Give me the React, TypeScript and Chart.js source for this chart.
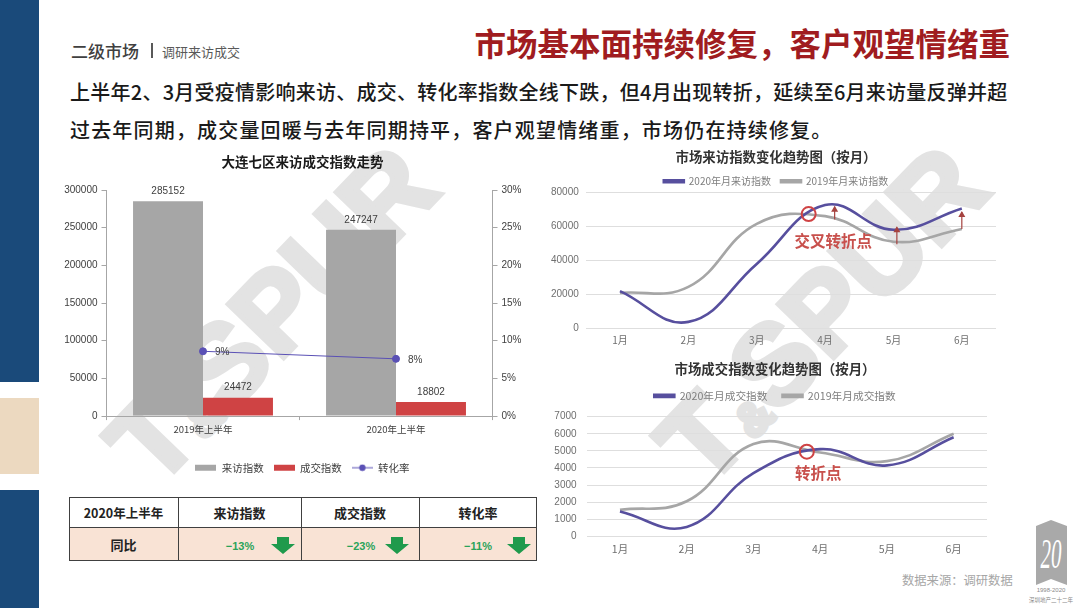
import React, { useEffect, useRef } from "react";
import { Chart, registerables } from "chart.js";

Chart.register(...registerables);

const FONT = '"Liberation Sans","Noto Sans CJK SC",sans-serif';
const CJK = '"Noto Sans CJK SC","Liberation Sans",sans-serif';

// Chart 1
const halfYears = ["2019年上半年", "2020年上半年"];
const visitTotals = [285152, 247247];
const dealTotals = [24472, 18802];
const conversionRates = [8.6, 7.6];

// Chart 2
const months = ["1月", "2月", "3月", "4月", "5月", "6月"];
const visits2020 = [22000, 4000, 38000, 72500, 58000, 70500];
const visits2019 = [21000, 24500, 61500, 66000, 51000, 58500];

// Chart 3
const deals2020 = [1450, 550, 3700, 5100, 4150, 5800];
const deals2019 = [1550, 2050, 5400, 4900, 4400, 6000];

// Annotations in data coordinates: [category index, value]
const visitCircle = [2.76, 67200];
const visitArrows = [
  [3.14, 64000, 71500],
  [4.05, 49500, 59500],
  [5.0, 58500, 68500],
];
const visitNote = { x: 3.12, y: 51500, text: "交叉转折点" };
const dealCircle = [2.8, 4950];
const dealNote = { x: 2.97, y: 3680, text: "转折点" };

const RED = "#cf4344";
const PURPLE = "#574f9e";
const GREY = "#a6a6a6";

function makeSwatch(kind: string, color: string) {
  const c = document.createElement("canvas");
  c.width = 21;
  c.height = 8;
  const g = c.getContext("2d")!;
  g.fillStyle = color;
  g.strokeStyle = color;
  if (kind === "bar") {
    g.fillRect(0, 1, 21, 6);
  } else {
    g.lineWidth = 1;
    g.beginPath();
    g.moveTo(0, 4);
    g.lineTo(21, 4);
    g.stroke();
    g.beginPath();
    g.arc(10.5, 4, 3.2, 0, Math.PI * 2);
    g.fill();
  }
  return c;
}

const barLabels = {
  id: "barLabels",
  afterDatasetsDraw(chart: any) {
    const ctx = chart.ctx;
    ctx.save();
    ctx.font = `10px ${FONT}`;
    ctx.fillStyle = "#404040";
    chart.data.datasets.forEach((ds: any, i: number) => {
      chart.getDatasetMeta(i).data.forEach((el: any, j: number) => {
        if (ds.type === "line") {
          ctx.textAlign = "left";
          ctx.textBaseline = "middle";
          ctx.fillText(`${Math.round(ds.data[j])}%`, el.x + 12, el.y + 1);
        } else {
          ctx.textAlign = "center";
          ctx.textBaseline = "bottom";
          ctx.fillText(String(ds.data[j]), el.x, el.y - 5);
        }
      });
    });
    ctx.restore();
  },
};

function notesPlugin(circle: number[], arrows: number[][], note: any) {
  return {
    id: "notes",
    afterDatasetsDraw(chart: any) {
      const { ctx, scales } = chart;
      const X = scales.x;
      const Y = scales.y;
      ctx.save();
      ctx.strokeStyle = RED;
      ctx.lineWidth = 2;
      ctx.beginPath();
      ctx.arc(X.getPixelForValue(circle[0]), Y.getPixelForValue(circle[1]), 7, 0, Math.PI * 2);
      ctx.stroke();
      ctx.strokeStyle = "#a5423f";
      ctx.fillStyle = "#a5423f";
      ctx.lineWidth = 1.2;
      arrows.forEach(([ax, from, to]) => {
        const x = X.getPixelForValue(ax);
        const y0 = Y.getPixelForValue(from);
        const y1 = Y.getPixelForValue(to);
        ctx.beginPath();
        ctx.moveTo(x, y0);
        ctx.lineTo(x, y1);
        ctx.stroke();
        ctx.beginPath();
        ctx.moveTo(x, y1 - 1);
        ctx.lineTo(x - 3.5, y1 + 5);
        ctx.lineTo(x + 3.5, y1 + 5);
        ctx.closePath();
        ctx.fill();
      });
      ctx.fillStyle = "#c8504c";
      ctx.font = `bold 15.5px ${CJK}`;
      ctx.textAlign = "center";
      ctx.textBaseline = "middle";
      ctx.fillText(note.text, X.getPixelForValue(note.x), Y.getPixelForValue(note.y));
      ctx.restore();
    },
  };
}

function legendFit(extra: number) {
  return {
    id: "legendFit",
    beforeInit(chart: any) {
      const fit = chart.legend.fit;
      chart.legend.fit = function () {
        fit.call(this);
        this.height += extra;
      };
    },
  };
}

function useChart(build: (c: HTMLCanvasElement) => Chart) {
  const ref = useRef<HTMLCanvasElement>(null);
  useEffect(() => {
    const chart = build(ref.current!);
    return () => chart.destroy();
  }, []);
  return ref;
}

function box(left: number, top: number, width: number, height: number) {
  return { position: "absolute" as const, left, top, width, height };
}

function lineOptions(o: any) {
  return {
    responsive: false,
    animation: false as const,
    layout: { padding: 0 },
    plugins: {
      tooltip: { enabled: false },
      title: {
        display: true,
        text: o.title,
        color: "#333333",
        font: { family: CJK, size: 13.4, weight: "bold" },
        padding: o.titlePadding,
      },
      legend: {
        position: "top",
        labels: {
          boxWidth: 20,
          boxHeight: 2,
          padding: o.legendPadding,
          color: "#7f7f7f",
          font: { family: CJK, size: o.legendSize },
        },
      },
    },
    scales: {
      x: {
        offset: true,
        afterFit: (s: any) => { s.height = o.xHeight; },
        grid: { display: false, drawTicks: false },
        border: { display: false },
        ticks: { color: "#6f6f6f", font: { family: CJK, size: o.xSize }, padding: o.xPad, maxRotation: 0 },
      },
      y: {
        min: 0,
        max: o.max,
        afterFit: (s: any) => { s.width = o.yWidth; },
        grid: { color: "#dedede", drawTicks: false, lineWidth: 1 },
        border: { display: false },
        ticks: {
          stepSize: o.step,
          color: "#6f6f6f",
          font: { family: FONT, size: 10 },
          padding: o.yPad,
          callback: (v: any) => String(v),
        },
      },
      r: {
        position: "right",
        afterFit: (s: any) => { s.width = o.rWidth; },
        grid: { display: false, drawTicks: false },
        border: { display: false },
        ticks: { display: false },
      },
    },
  };
}

function lineDataset(label: string, data: number[], color: string) {
  return {
    label,
    data,
    borderColor: color,
    backgroundColor: color,
    borderWidth: 2.6,
    pointRadius: 0,
    tension: 0.42,
    cubicInterpolationMode: "default",
  };
}

function DownArrow({ left }: { left: number }) {
  return (
    <svg style={{ position: "absolute", left: left - 12, top: 537 }} width={24} height={17}>
      <polygon points="6,0 18,0 18,7 24,7 12,17 0,7 6,7" fill="#1f9a4c" />
    </svg>
  );
}

const cellText = (
  left: number,
  width: number,
  top: number,
  height: number,
  text: string,
  size: number
) => (
  <div
    style={{
      ...box(left, top, width, height),
      display: "flex",
      alignItems: "center",
      justifyContent: "center",
      fontFamily: CJK,
      fontWeight: 700,
      fontSize: size,
      color: "#222",
    }}
  >
    {text}
  </div>
);

function Watermark({ cx, cy }: { cx: number; cy: number }) {
  return (
    <div
      style={{
        position: "absolute",
        left: cx - 300,
        top: cy - 75,
        width: 600,
        height: 150,
        lineHeight: "150px",
        textAlign: "center",
        fontFamily: '"Liberation Sans",sans-serif',
        fontWeight: 700,
        fontSize: 112,
        color: "#e3e3e3",
        WebkitTextStroke: "5px #e3e3e3",
        transform: "rotate(-46deg)",
        whiteSpace: "nowrap",
      }}
    >
      T<span style={{ fontSize: 46 }}>&amp;</span>SPUR
    </div>
  );
}

export default function App() {
  const c1 = useChart((c) => {
    const bar = makeSwatch("bar", GREY);
    const bar2 = makeSwatch("bar", RED);
    const line = makeSwatch("line", "#5a50b5");
    const swatches = [bar, bar2, line];
    return new Chart(c, {
      data: {
        labels: halfYears,
        datasets: [
          { type: "bar", label: "来访指数", data: visitTotals, backgroundColor: GREY, yAxisID: "y", order: 1 },
          { type: "bar", label: "成交指数", data: dealTotals, backgroundColor: RED, yAxisID: "y", order: 1 },
          {
            type: "line",
            label: "转化率",
            data: conversionRates,
            borderColor: "#5a50b5",
            backgroundColor: "#5a50b5",
            borderWidth: 1,
            pointRadius: 3.5,
            yAxisID: "y1",
            order: 0,
          },
        ],
      } as any,
      options: {
        responsive: false,
        animation: false,
        layout: { padding: 0 },
        datasets: { bar: { barPercentage: 1, categoryPercentage: 0.725 } },
        plugins: {
          tooltip: { enabled: false },
          title: {
            display: true,
            text: "大连七区来访成交指数走势",
            color: "#1a1a1a",
            font: { family: CJK, size: 13.5, weight: "bold" },
            padding: { top: 6, bottom: 19.8 },
          },
          legend: {
            position: "bottom",
            labels: {
              usePointStyle: true,
              pointStyleWidth: 21,
              boxHeight: 8,
              padding: 10,
              color: "#404040",
              font: { family: CJK, size: 10.5 },
              generateLabels: (chart: any) =>
                chart.data.datasets.map((d: any, i: number) => ({
                  text: d.label,
                  pointStyle: swatches[i],
                  fillStyle: d.backgroundColor,
                  strokeStyle: d.backgroundColor,
                  lineWidth: 0,
                  datasetIndex: i,
                  fontColor: "#404040",
                })),
            },
          },
        },
        scales: {
          x: {
            afterFit: (s: any) => { s.height = 36.4; },
            grid: { drawOnChartArea: false, color: "#a6a6a6", tickLength: 4 },
            border: { color: "#a6a6a6" },
            ticks: { color: "#404040", font: { family: CJK, size: 9.5 }, padding: 4, maxRotation: 0 },
          },
          y: {
            min: 0,
            max: 300000,
            afterFit: (s: any) => { s.width = 46.5; },
            grid: { drawOnChartArea: false, color: "#a6a6a6", tickLength: 5 },
            border: { color: "#a6a6a6" },
            ticks: {
              stepSize: 50000,
              color: "#404040",
              font: { family: FONT, size: 10 },
              padding: 4,
              callback: (v: any) => String(v),
            },
          },
          y1: {
            position: "right",
            min: 0,
            max: 30,
            afterFit: (s: any) => { s.width = 52.5; },
            grid: { drawOnChartArea: false, color: "#a6a6a6", tickLength: 5 },
            border: { color: "#a6a6a6" },
            ticks: {
              stepSize: 5,
              color: "#404040",
              font: { family: FONT, size: 10 },
              padding: 4,
              callback: (v: any) => `${v}%`,
            },
          },
        },
      } as any,
      plugins: [barLabels],
    });
  });

  const c2 = useChart((c) =>
    new Chart(c, {
      type: "line",
      data: {
        labels: months,
        datasets: [
          lineDataset("2020年月来访指数", visits2020, PURPLE),
          lineDataset("2019年月来访指数", visits2019, GREY),
        ],
      } as any,
      options: lineOptions({
        title: "市场来访指数变化趋势图（按月）",
        titlePadding: { top: 1, bottom: 1.2 },
        legendPadding: 10,
        legendSize: 10,
        xHeight: 24.3,
        xSize: 10,
        xPad: 6,
        yWidth: 40.8,
        rWidth: 11,
        yPad: 7,
        max: 80000,
        step: 20000,
      }) as any,
      plugins: [legendFit(-4), notesPlugin(visitCircle, visitArrows, visitNote)],
    })
  );

  const c3 = useChart((c) =>
    new Chart(c, {
      type: "line",
      data: {
        labels: months,
        datasets: [
          lineDataset("2020年月成交指数", deals2020, PURPLE),
          lineDataset("2019年月成交指数", deals2019, GREY),
        ],
      } as any,
      options: lineOptions({
        title: "市场成交指数变化趋势图（按月）",
        titlePadding: { top: 3.2, bottom: -1.8 },
        legendPadding: 15,
        legendSize: 10.7,
        xHeight: 21.7,
        xSize: 10.5,
        xPad: 6,
        yWidth: 41.6,
        rWidth: 18,
        yPad: 10,
        max: 7000,
        step: 1000,
      }) as any,
      plugins: [legendFit(5.5), notesPlugin(dealCircle, [], dealNote)],
    })
  );

  return (
    <div style={{ ...box(0, 0, 1080, 608), background: "#fff", overflow: "hidden" }}>
      <div style={{ ...box(0, 0, 39, 382), background: "#1a4a7a" }} />
      <div style={{ ...box(0, 398, 39, 76), background: "#ecd9c0" }} />
      <div style={{ ...box(0, 490, 39, 118), background: "#1a4a7a" }} />

      <Watermark cx={271.5} cy={314.5} />
      <Watermark cx={822} cy={314.5} />

      <div style={{ position: "absolute", left: 71, top: 39, fontFamily: CJK, fontSize: 17, fontWeight: 500, color: "#404040", whiteSpace: "nowrap", lineHeight: "24px" }}>
        二级市场
      </div>
      <div style={{ ...box(151, 43, 1.5, 15), background: "#595959" }} />
      <div style={{ position: "absolute", left: 162, top: 42, fontFamily: CJK, fontSize: 13, color: "#595959", whiteSpace: "nowrap", lineHeight: "20px" }}>
        调研来访成交
      </div>
      <div style={{ position: "absolute", right: 70, top: 19, fontFamily: CJK, fontSize: 31.5, fontWeight: 700, color: "#a01c20", whiteSpace: "nowrap", lineHeight: "46px" }}>
        市场基本面持续修复，客户观望情绪重
      </div>
      <div style={{ position: "absolute", left: 70, top: 77, fontFamily: CJK, fontSize: 20, fontWeight: 500, color: "#1a1a1a", whiteSpace: "nowrap", lineHeight: "30px", letterSpacing: 0.25 }}>
        上半年2、3月受疫情影响来访、成交、转化率指数全线下跌，但4月出现转折，延续至6月来访量反弹并超
      </div>
      <div style={{ position: "absolute", left: 70, top: 115, fontFamily: CJK, fontSize: 20, fontWeight: 500, color: "#1a1a1a", whiteSpace: "nowrap", lineHeight: "30px", letterSpacing: 1.18 }}>
        过去年同期，成交量回暖与去年同期持平，客户观望情绪重，市场仍在持续修复。
      </div>

      <canvas ref={c1} width={485} height={335} style={{ ...box(60, 148, 485, 335) }} />
      <canvas ref={c2} width={462} height={205} style={{ ...box(545, 148, 462, 205) }} />
      <canvas ref={c3} width={460} height={200} style={{ ...box(545, 358, 460, 200) }} />

      {/* Table */}
      <div style={{ ...box(69, 527, 468, 34), background: "#f9e3d5" }} />
      <div style={{ ...box(69, 497, 468, 64), border: "1.5px solid #404040", boxSizing: "border-box" }} />
      <div style={{ ...box(69, 527, 468, 1), background: "#404040" }} />
      <div style={{ ...box(178, 497, 1, 64), background: "#404040" }} />
      <div style={{ ...box(301, 497, 1, 64), background: "#404040" }} />
      <div style={{ ...box(419, 497, 1, 64), background: "#404040" }} />
      {cellText(69, 109, 497, 30, "2020年上半年", 12.5)}
      {cellText(178, 123, 497, 30, "来访指数", 13)}
      {cellText(301, 118, 497, 30, "成交指数", 13)}
      {cellText(419, 118, 497, 30, "转化率", 13)}
      {cellText(69, 109, 528, 33, "同比", 13)}
      {[["−13%", 240], ["−23%", 361], ["−11%", 478]].map(([t, x]) => (
        <div key={t as string} style={{ ...box((x as number) - 25, 536, 50, 20), textAlign: "center", fontFamily: FONT, fontSize: 11, fontWeight: 700, color: "#2aa35a", lineHeight: "20px" }}>
          {t}
        </div>
      ))}
      <DownArrow left={283} />
      <DownArrow left={397} />
      <DownArrow left={519} />

      <div style={{ position: "absolute", left: 902, top: 571, fontFamily: CJK, fontSize: 12.3, color: "#a6a6a6", whiteSpace: "nowrap", lineHeight: "18px" }}>
        数据来源：调研数据
      </div>

      {/* Logo */}
      <svg style={{ position: "absolute", left: 1024, top: 518 }} width={54} height={88}>
        <polygon points="12,8 27,2 43,8 43,67 27,61 12,67" fill="#a9a9a9" />
        <g transform="translate(27,50) scale(0.62,1.25)">
          <text x="0" y="0" textAnchor="middle" fontFamily='"Liberation Serif",serif' fontStyle="italic" fontSize="34" fill="#fff">20</text>
        </g>
        <text x="27" y="74" textAnchor="middle" fontFamily={FONT} fontSize="6" fill="#8a8a8a">1998-2020</text>
        <text x="27" y="84" textAnchor="middle" fontFamily={CJK} fontSize="5.5" fill="#8a8a8a">深圳地产二十二年</text>
      </svg>
    </div>
  );
}
